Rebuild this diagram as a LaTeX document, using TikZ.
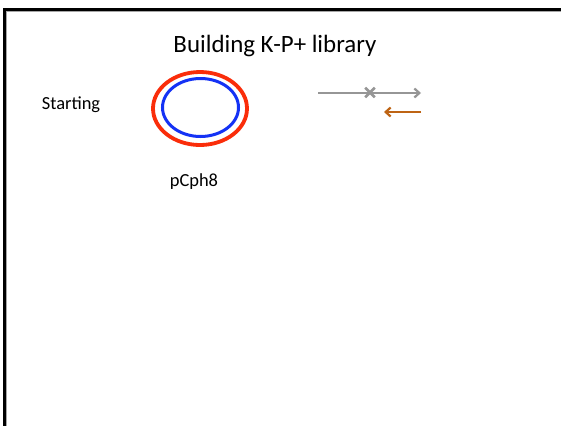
\documentclass[tikz,border=0pt]{standalone}
\usepackage{fontspec}
\setmainfont{Carlito}
\usetikzlibrary{shapes.geometric,shapes.misc,arrows.meta}
\definecolor{ringred}{RGB}{250,45,10}
\definecolor{ringblue}{RGB}{20,50,245}
\definecolor{fwdgray}{RGB}{150,150,150}
\definecolor{revbrown}{RGB}{190,100,20}
\tikzset{
  label text/.style={inner sep=0pt, font=\fontsize{18.5}{22}\selectfont},
  ring/.style={ellipse, inner sep=0pt},
  primer/.style={line width=2.2pt, -{Straight Barb[length=5bp,width=9bp]}},
  mutation/.style={cross out, draw=fwdgray, line width=2.6bp, inner sep=0pt, minimum width=7bp, minimum height=7bp},
}
\begin{document}
\begin{tikzpicture}[x=1bp,y=-1bp]
  \useasboundingbox (0,0) rectangle (561,426);
  \fill[white] (0,0) rectangle (561,426);
  % slide frame: top and left edges as solid bands
  \fill[black!35] (5.5,10.5) rectangle (561,11.8);
  \fill[black!35] (5.5,10.5) rectangle (7.2,426);
  \fill[black] (2.5,7.5) rectangle (561,10.5);
  \fill[black] (2.5,7.5) rectangle (5.5,426);
  % title and labels
  \node[inner sep=0pt, font=\fontsize{25}{30}\selectfont] (title) at (275,46) {Building K-P+ library};
  \node[label text] (start) at (71,105) {Starting};
  \node[label text] (plasmid) at (194,182) {pCph8};
  % plasmid rings
  \node[ring, draw=ringred, line width=3.8bp, minimum width=94bp, minimum height=73bp] (outer) at (200,108.5) {};
  \node[ring, draw=ringblue, line width=3bp, minimum width=76bp, minimum height=58bp] (inner) at (200.5,107.5) {};
  % primers
  \coordinate (fs) at (318,93);
  \coordinate (fe) at (421,93);
  \coordinate (rs) at (421,112);
  \coordinate (re) at (384,112);
  \draw[primer, draw=fwdgray] (fs) -- (fe);
  \node[mutation] (mut) at (370,92.5) {};
  \draw[primer, draw=revbrown] (rs) -- (re);
\end{tikzpicture}
\end{document}
